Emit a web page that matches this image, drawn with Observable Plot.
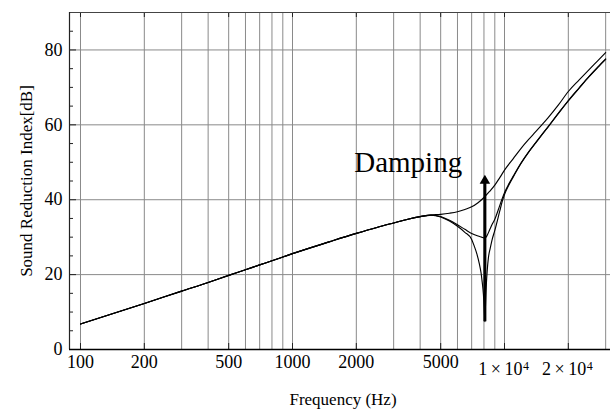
<!DOCTYPE html>
<html>
<head>
<meta charset="utf-8">
<script src="https://cdn.jsdelivr.net/npm/d3@7"></script>
<script src="https://cdn.jsdelivr.net/npm/@observablehq/plot@0.6"></script>
<style>
  body { margin: 0; background: #fff; }
  svg text { font-family: 'Liberation Serif', 'Times New Roman', serif; }
</style>
</head>
<body>
<div id="chart"></div>
<script>
// ---- data ----
const freqCommon = [100,150,200,300,400,500,600,700,800,900,1000,1500,2000,2500,3000,3500,4000,4500];
const srCommon   = [6.8,10.0,12.3,15.6,17.9,19.8,21.3,22.6,23.7,24.7,25.6,28.8,31.0,32.6,33.8,34.8,35.5,35.9];

const freqHigh = [5000,5500,6000,6500,7000,7500,8000,8500,9000,9500,10000,11000,12000,13000,14000,15000,16000,18000,20000,22500,25000,27500,30000];
const srHigh   = [36.1,36.4,36.8,37.4,38.1,39.2,40.6,42.2,43.9,45.9,47.9,51.0,53.8,56.1,58.1,60.0,61.8,65.4,68.9,72.0,74.7,77.1,79.3];

const freqMid = [5000,5500,6000,6500,7000,7500,7800,8000,8150,8300,8500,8700,9000,9500,9750,10000,10500,11000,12000,13000,14000,15000,16000,18000,20000,22500,25000,27500,30000];
const srMid   = [35.5,34.5,33.3,32.1,31.0,30.3,30.0,29.8,29.9,30.6,31.9,33.2,34.8,38.5,40.3,41.9,44.3,46.3,49.9,52.8,55.2,57.4,59.4,63.2,66.5,69.9,72.9,75.4,77.6];

const freqLow = [5000,5500,6000,6500,7000,7200,7400,7600,7750,7850,7950,8020,8060,8080,8100,8130,8170,8220,8280,8400,8560,8720,9000,9500,9750,10000,10500,11000,12000,13000,14000,15000,16000,18000,20000,22500,25000,27500,30000];
const srLow   = [35.4,34.3,32.9,31.3,29.4,27.6,25.6,23.0,20.5,18.0,14.8,11.2,8.6,7.4,8.6,11.5,14.8,18.0,20.8,24.6,27.0,29.1,31.8,37.0,39.5,41.4,44.0,46.1,49.8,52.7,55.1,57.3,59.3,63.1,66.4,69.8,72.8,75.3,77.5];

const gridFreqs = [100,200,300,400,500,600,700,800,900,1000,2000,3000,4000,5000,6000,7000,8000,9000,10000,20000,30000];
const xTickValues = [100,200,500,1000,2000,5000];
const xTickLabels = ["100","200","500","1000","2000","5000"];
const xSciValues = [10000,20000];
const xSciMantissa = ["1\u2009\u00d7\u200910","2\u2009\u00d7\u200910"];
const xSciExponent = ["4","4"];
const yTickValues = [0,20,40,60,80];
const yTickLabels = ["0","20","40","60","80"];
const yMinorTicks = [5,10,15,25,30,35,45,50,55,65,70,75,85];
const yGrid = [20,40,60,80];

const xDomain = [88.74, 31620];
const yDomain = [0, 90];

const xLabel = "Frequency (Hz)";
const yLabel = "Sound Reduction Index[dB]";

const dampingText = ["Damping"];
const dampingFreq = [1955];
const dampingLevel = [47.5];

const arrowFreq = [8080];
const arrowFrom = [7.4];
const arrowTo = [44.6];
const arrowHeadLevel = [45.05];

// ---- build table ----
const series = [
  {name: "high", f: freqHigh, v: srHigh},
  {name: "mid", f: freqMid, v: srMid},
  {name: "low", f: freqLow, v: srLow}
];
const rows = series.flatMap(s => [
  ...freqCommon.map((f, i) => ({s: s.name, f, v: srCommon[i]})),
  ...s.f.map((f, i) => ({s: s.name, f, v: s.v[i]}))
]);
const xTickRows = xTickValues.map((f, i) => ({f, t: xTickLabels[i]}));
const xSciRows = xSciValues.map((f, i) => ({f, t: xSciMantissa[i], e: xSciExponent[i]}));
const yTickRows = yTickValues.map((v, i) => ({v, t: yTickLabels[i]}));
const dampingRows = dampingText.map((t, i) => ({t, f: dampingFreq[i], v: dampingLevel[i]}));
const arrowRows = arrowFreq.map((f, i) => ({f, y1: arrowFrom[i], y2: arrowTo[i], head: arrowHeadLevel[i]}));

const W = 610, H = 412, mL = 69, mR = 0, mT = 12, mB = 63;
const frameH = H - mT - mB;
const frameW = W - mL - mR;
const FS = 18;

const chart = Plot.plot({
  width: W, height: H,
  marginLeft: mL, marginRight: mR, marginTop: mT, marginBottom: mB,
  x: {type: "log", domain: xDomain, axis: null},
  y: {domain: yDomain, axis: null},
  style: {fontFamily: "'Liberation Serif', 'Times New Roman', serif", fontSize: FS + "px", background: "#fff", color: "#000", overflow: "visible"},
  marks: [
    Plot.ruleX(gridFreqs, {stroke: "#8a8a8a", strokeWidth: 1}),
    Plot.ruleY(yGrid, {stroke: "#8a8a8a", strokeWidth: 1}),
    // tick marks
    Plot.tickX([...xTickValues, ...xSciValues], {stroke: "#222", insetTop: frameH - 6}),
    Plot.tickX([...xTickValues, ...xSciValues], {stroke: "#222", insetBottom: frameH - 5}),
    Plot.tickY(yMinorTicks, {stroke: "#222", insetRight: frameW - 4}),
    Plot.tickY(yTickValues, {stroke: "#222", insetRight: frameW - 7}),
    // frame
    Plot.ruleY([yDomain[1]], {stroke: "#444", strokeWidth: 1}),
    Plot.ruleX([xDomain[0]], {stroke: "#222", strokeWidth: 1.2}),
    Plot.ruleY([yDomain[0]], {stroke: "#000", strokeWidth: 1.5}),
    // tick labels
    Plot.text(xTickRows, {x: "f", text: "t", frameAnchor: "bottom", lineAnchor: "top", dy: 6, fontSize: FS}),
    Plot.text(xSciRows, {x: "f", text: "t", frameAnchor: "bottom", lineAnchor: "top", textAnchor: "end", dx: 18, dy: 12.5, fontSize: FS}),
    Plot.text(xSciRows, {x: "f", text: "e", frameAnchor: "bottom", lineAnchor: "top", textAnchor: "start", dx: 18.5, dy: 11.5, fontSize: 12}),
    Plot.text(yTickRows, {y: "v", text: "t", frameAnchor: "left", textAnchor: "end", dx: -7, fontSize: FS}),
    // axis titles
    Plot.text([xLabel], {frameAnchor: "bottom", dx: 3, dy: 55, lineAnchor: "bottom", text: d => d, fontSize: 17}),
    Plot.text([yLabel], {frameAnchor: "left", rotate: -90, dx: -38, lineAnchor: "bottom", textAnchor: "middle", text: d => d, fontSize: 17}),
    // curves
    Plot.line(rows, {x: "f", y: "v", z: "s", stroke: "#000", strokeWidth: 1.15, curve: "monotone-x"}),
    // arrow
    Plot.ruleX(arrowRows, {x: "f", y1: "y1", y2: "y2", stroke: "#000", strokeWidth: 3}),
    Plot.dot(arrowRows, {x: "f", y: "head", symbol: "triangle", r: 3.9, fill: "#000", stroke: "none"}),
    Plot.text(dampingRows, {x: "f", y: "v", text: "t", textAnchor: "start", lineAnchor: "bottom", fontSize: 29})
  ]
});
document.getElementById("chart").appendChild(chart);
</script>
</body>
</html>
